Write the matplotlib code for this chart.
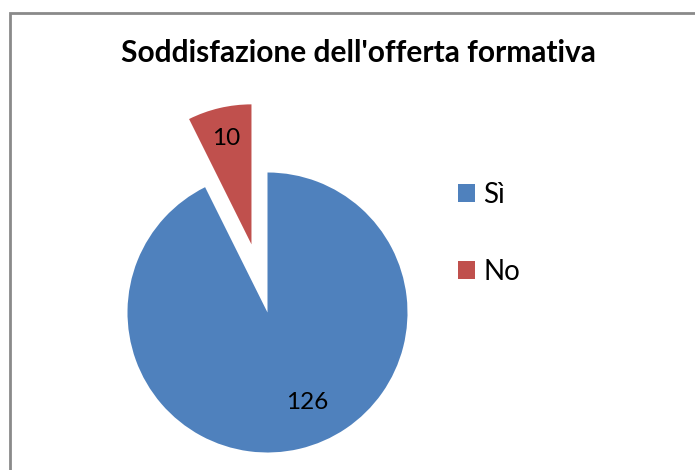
import numpy as np
import matplotlib
matplotlib.use("Agg")
import matplotlib.pyplot as plt
from matplotlib.patches import Rectangle

categories = ["Sì", "No"]
values = [126, 10]
colors = ["#4F81BD", "#C0504D"]
explode = [0.0, 0.5]
title = "Soddisfazione dell'offerta formativa"

W, H = 695, 470
fig = plt.figure(figsize=(W / 100, H / 100), dpi=100)
plt.rcParams['font.family'] = ['Lato', 'DejaVu Sans']

# chart border (cropped on right/bottom)
fig.patches.append(Rectangle((10 / W, -0.2), 1.5, 1 - 13 / H + 0.2,
                             transform=fig.transFigure, fill=False,
                             edgecolor="#8a8a8a", linewidth=2.0, zorder=0))

R_px = 140.0
a = 1.6
w = 2 * a * R_px
cx, cy = 267.5, 312.5
ax = fig.add_axes([(cx - w / 2) / W, (H - cy - w / 2) / H, w / W, w / H])
wedges, _ = ax.pie(values, colors=colors, explode=explode, startangle=90,
                   counterclock=False, radius=1.0,
                   wedgeprops=dict(linewidth=0))
ax.set_xlim(-a, a)
ax.set_ylim(-a, a)
ax.set_aspect("equal")
ax.axis("off")
for wd in wedges:
    wd.set_clip_on(False)

# data labels
label_pos = [(0.70, -66.0), (0.78, None)]
for i, (v, wd) in enumerate(zip(values, wedges)):
    th1, th2 = wd.theta1, wd.theta2
    mid = np.deg2rad((th1 + th2) / 2)
    ex = explode[i]
    dist, ang = label_pos[i]
    ang_r = mid if ang is None else np.deg2rad(ang)
    x = ex * np.cos(mid) + dist * np.cos(ang_r)
    y = ex * np.sin(mid) + dist * np.sin(ang_r)
    ax.text(x, y, str(v), ha="center", va="center", fontsize=17.5, color="black")

fig.text(358 / W, 1 - 53 / H, title, ha="center", va="center",
         fontsize=21.5, fontweight="bold")

leg = fig.legend(wedges, categories, loc="upper left",
                 bbox_to_anchor=(458 / W, 1 - 182 / H),
                 frameon=False, fontsize=20, handlelength=0.62,
                 handleheight=0.62, handletextpad=0.3, labelspacing=1.82,
                 borderpad=0, borderaxespad=0)

fig.savefig("out.png", dpi=100)
